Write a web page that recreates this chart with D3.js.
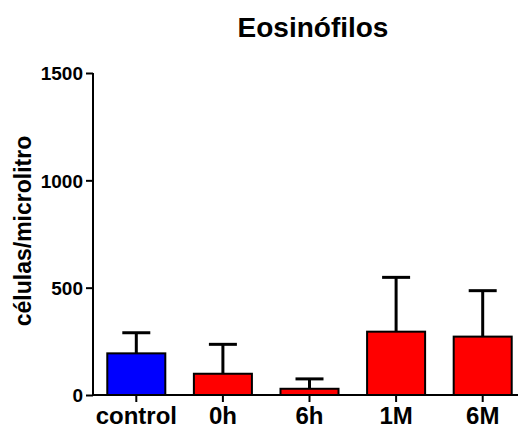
<!DOCTYPE html>
<html>
<head>
<meta charset="utf-8">
<script src="https://cdn.jsdelivr.net/npm/d3@7"></script>
<style>
  html, body { margin: 0; padding: 0; background: #fff; }
  svg { display: block; }
  text { font-family: "Liberation Sans", Arial, sans-serif; font-weight: bold; fill: #000; }
</style>
</head>
<body>
<svg id="chart" width="518" height="431"></svg>
<script>
const categories = ["control", "0h", "6h", "1M", "6M"];
const means = [194, 99, 29, 295, 272];
const sds = [96, 137, 46, 253, 214];
const barColors = ["#0000FF", "#FF0000", "#FF0000", "#FF0000", "#FF0000"];
const yTicks = [0, 500, 1000, 1500];
const title = "Eosinófilos";
const yTitle = "células/microlitro";

const svg = d3.select("#chart");
const x0 = 93, y0 = 395, yTop = 73;

const x = d3.scaleBand().domain(categories).range([x0, 526]).paddingInner(0.33).paddingOuter(0.165);
const y = d3.scaleLinear().domain([0, 1500]).range([y0, yTop]);

// title
svg.append("text").attr("x", 313).attr("y", 37).attr("text-anchor", "middle")
  .style("font-size", "28px").text(title);

// y title
svg.append("text").attr("transform", "translate(31,231) rotate(-90)").attr("text-anchor", "middle")
  .style("font-size", "23px").text(yTitle);

const data = categories.map((c, i) => ({c, m: means[i], sd: sds[i], col: barColors[i]}));

const g = svg.append("g");
data.forEach(d => {
  const cx = x(d.c) + x.bandwidth() / 2;
  g.append("line").attr("x1", cx).attr("x2", cx).attr("y1", y(d.m)).attr("y2", y(d.m + d.sd))
    .attr("stroke", "#000").attr("stroke-width", 3);
  g.append("line").attr("x1", cx - 14).attr("x2", cx + 14).attr("y1", y(d.m + d.sd)).attr("y2", y(d.m + d.sd))
    .attr("stroke", "#000").attr("stroke-width", 3);
});
g.selectAll("rect").data(data).join("rect")
  .attr("x", d => x(d.c)).attr("width", x.bandwidth())
  .attr("y", d => y(d.m)).attr("height", d => y0 - y(d.m))
  .attr("fill", d => d.col).attr("stroke", "#000").attr("stroke-width", 2);

const yAxis = svg.append("g").attr("transform", `translate(${x0},0)`)
  .call(d3.axisLeft(y).tickValues(yTicks).tickSize(7).tickPadding(3).tickFormat(d3.format("d")));
yAxis.select(".domain").attr("d", `M0,${yTop}V${y0}`).attr("stroke-width", 2);
yAxis.selectAll(".tick line").attr("stroke-width", 2);
yAxis.selectAll(".tick text").style("font-size", "19px").attr("dy", "0.36em");

const xAxis = svg.append("g").attr("transform", `translate(0,${y0})`)
  .call(d3.axisBottom(x).tickSize(7).tickPadding(5));
xAxis.select(".domain").attr("d", `M${x0},0H518`).attr("stroke-width", 2);
xAxis.selectAll(".tick line").attr("stroke-width", 2);
xAxis.selectAll(".tick text").style("font-size", "24px");
</script>
</body>
</html>
